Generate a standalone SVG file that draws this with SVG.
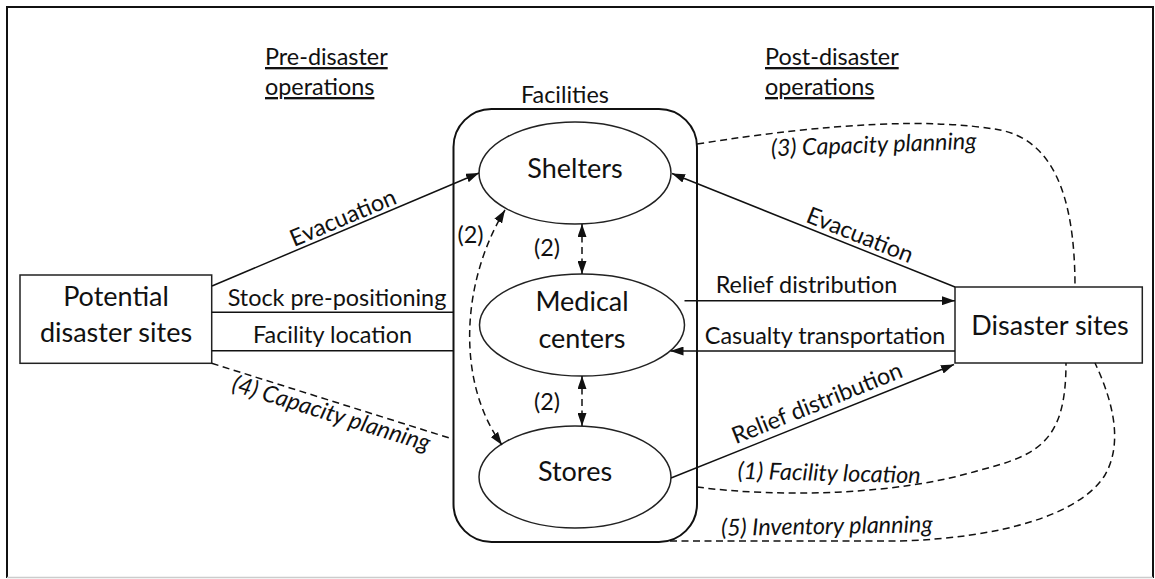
<svg xmlns="http://www.w3.org/2000/svg" width="1155" height="579" viewBox="0 0 1155 579">
  <defs>
    <marker id="arr" viewBox="0 0 13 9" refX="13" refY="4.5" markerWidth="13" markerHeight="9" markerUnits="userSpaceOnUse" orient="auto-start-reverse">
      <path d="M0,0 L13,4.5 L0,9 z" fill="#111"/>
    </marker>
    <style>
      .node { fill: #fff; stroke: #222; stroke-width: 1.5; }
      .nl { font-family: Lato, "Liberation Sans", sans-serif; font-size: 27px; fill: #111; text-anchor: middle; }
      .el { font-family: Lato, "Liberation Sans", sans-serif; font-size: 23.4px; fill: #111; text-anchor: middle; }
      .it { font-style: italic; }
      .hd { font-family: Lato, "Liberation Sans", sans-serif; font-size: 23.4px; fill: #111; text-decoration: underline; }
      .ln { fill: none; stroke: #111; stroke-width: 1.5; }
      .dl { fill: none; stroke: #111; stroke-width: 1.5; stroke-dasharray: 7 4.5; }
    </style>
  </defs>
  <rect width="1155" height="579" fill="#fff"/>
  <g id="frame">
    <path d="M7,578 L7,7 L1153,7 L1153,578" fill="none" stroke="#111" stroke-width="2"/>
    <line x1="7" y1="577.5" x2="1153" y2="577.5" stroke="#ccc" stroke-width="1.5"/>
  </g>
  <g id="headers">
    <text class="hd" x="265" y="65">Pre-disaster</text>
    <text class="hd" x="265" y="95">operations</text>
    <text class="hd" x="765" y="65">Post-disaster</text>
    <text class="hd" x="765" y="95">operations</text>
  </g>
  <g id="facilities">
    <rect x="453.5" y="109" width="243.5" height="433" rx="38" ry="38" fill="none" stroke="#111" stroke-width="2"/>
    <text class="el" x="565" y="102.5">Facilities</text>
  </g>
  <g id="potential">
    <rect class="node" x="20" y="275" width="191.7" height="88.3"/>
    <text class="nl" x="116" y="306">Potential</text>
    <text class="nl" x="116" y="341.5">disaster sites</text>
  </g>
  <g id="disaster">
    <rect class="node" x="955" y="287" width="187.3" height="76"/>
    <text class="nl" x="1050" y="335">Disaster sites</text>
  </g>
  <g id="shelters">
    <ellipse class="node" cx="575" cy="173" rx="96" ry="51"/>
    <text class="nl" x="575" y="177.5">Shelters</text>
  </g>
  <g id="medical">
    <ellipse class="node" cx="582" cy="325" rx="102.5" ry="51"/>
    <text class="nl" x="582" y="311">Medical</text>
    <text class="nl" x="582" y="348">centers</text>
  </g>
  <g id="stores">
    <ellipse class="node" cx="575" cy="477" rx="96" ry="51"/>
    <text class="nl" x="575" y="481">Stores</text>
  </g>
  <g id="connectors">
    <line class="ln" x1="212" y1="286" x2="479" y2="173" marker-end="url(#arr)"/>
    <line class="ln" x1="211.7" y1="312.3" x2="453.5" y2="312.3"/>
    <line class="ln" x1="211.7" y1="350.7" x2="453.5" y2="350.7"/>
    <line class="dl" x1="211.7" y1="363.3" x2="453.5" y2="439.3"/>
    <line class="ln" x1="955" y1="287" x2="672" y2="173.5" marker-end="url(#arr)"/>
    <line class="ln" x1="684.5" y1="300.7" x2="955" y2="300.7" marker-end="url(#arr)"/>
    <line class="ln" x1="955" y1="351" x2="670.5" y2="351" marker-end="url(#arr)"/>
    <line class="ln" x1="671" y1="478" x2="954" y2="364.5" marker-end="url(#arr)"/>
    <path class="dl" d="M505,210 C462,280 455,380 502,445" marker-start="url(#arr)" marker-end="url(#arr)"/>
    <line class="dl" x1="582" y1="224" x2="582" y2="274" marker-start="url(#arr)" marker-end="url(#arr)"/>
    <line class="dl" x1="582" y1="376" x2="582" y2="426" marker-start="url(#arr)" marker-end="url(#arr)"/>
    <path class="dl" d="M697,144 Q900,112 1000,130 C1050,140 1075,190 1075,287"/>
    <path class="dl" d="M697,487 C780,498 900,495 980,470 C1040,455 1066,440 1066,363"/>
    <path class="dl" d="M670,541 L900,541 C1000,538 1080,515 1105,475 C1125,440 1110,395 1095,363"/>
  </g>
  <g id="labels">
    <text class="el" transform="translate(346,225) rotate(-22.9)">Evacuation</text>
    <text class="el" x="337" y="306">Stock pre-positioning</text>
    <text class="el" x="332.5" y="343.3">Facility location</text>
    <text class="el it" transform="translate(329,421) rotate(17.2)">(4) Capacity planning</text>
    <text class="el" x="470.5" y="243">(2)</text>
    <text class="el" x="547" y="256">(2)</text>
    <text class="el" x="547" y="409.5">(2)</text>
    <text class="el it" transform="translate(874,152.5) rotate(-2.1)">(3) Capacity planning</text>
    <text class="el" transform="translate(857,242.5) rotate(21.8)">Evacuation</text>
    <text class="el" x="806.5" y="293">Relief distribution</text>
    <text class="el" x="825" y="344">Casualty transportation</text>
    <text class="el" transform="translate(820,410.5) rotate(-21.9)">Relief distribution</text>
    <text class="el it" transform="translate(829,481) rotate(1.4)">(1) Facility location</text>
    <text class="el it" transform="translate(827,534) rotate(-1)">(5) Inventory planning</text>
  </g>
</svg>
